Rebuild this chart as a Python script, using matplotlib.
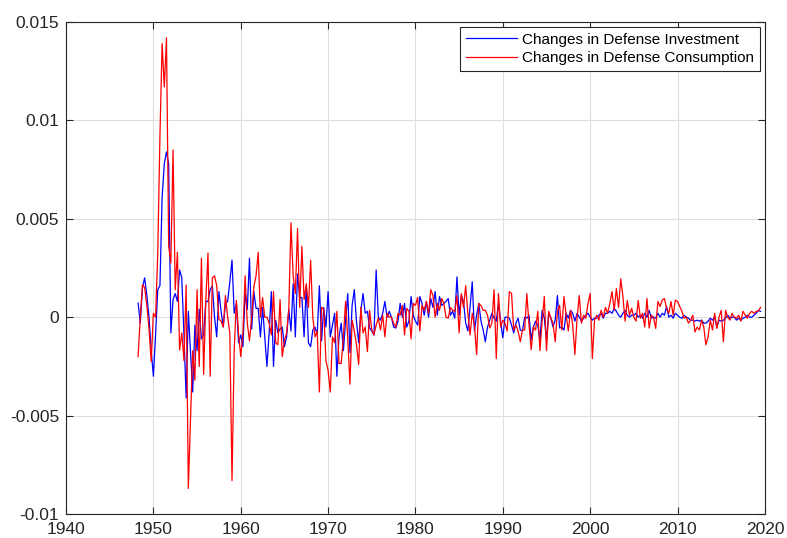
import numpy as np
import matplotlib.pyplot as plt
from matplotlib.ticker import FuncFormatter

plt.rcParams['font.family'] = ['Liberation Sans', 'DejaVu Sans']

# quarterly changes, in thousandths, starting 1948Q2
start_year = 1948.25

investment = [
    # 1948 - 1959
    0.72, -0.3, 1.5, 2.0, 1.1, 0, -1.7, -3.0, -0.9, 1.4,
    1.6, 6.1, 7.8, 8.4, 7.8, -0.8, 0.9, 1.2, 0.8, 2.4,
    2.0, -0.9, -4.1, 0.3, -1.7, -3.8, -0.4, -1.7, 0.4, -1.1,
    -0.9, 0.8, 0.8, 1.4, 1.6, 0, -1.0, 1.3, 0.3, -0.5,
    0.7, 0.8, 1.8, 2.9, 0.2, 0.7, -1.3, -0.9,
    # 1960 - 1971
    -1.5, 1.2, 0.4, 3.0, -0.6, 1.3, 0.45, 0.45, -1.0, 0.5,
    -1.0, -2.5, -0.8, 1.3, -2.5, -0.15, -0.8, -0.6, -0.5, -1.5,
    -1.0, 0.4, -0.7, 1.7, -1.0, 2.2, 1.0, 1.0, -1.0, 1.55,
    -1.3, -1.5, -0.65, -0.5, -0.9, 1.6, -1.2, 0.5, -0.5, 1.3,
    -1.0, -0.4, 0.2, -3.0, -1.0, -0.3, -1.7,
    # 1972 - 1983
    -0.2, 1.2, -1.8, 0.6, 1.4, -0.2, -1.3, 0.35, 1.2, 0.2,
    0.3, -0.55, -0.7, -0.9, 2.4, 0, -0.15, 0.2, 0.8, 0,
    0.3, 0, -0.5, -0.55, -0.2, 0.7, 0, 0.7, -0.5, -0.2,
    1.05, 0.1, -0.2, -0.4, 1.05, 0.7, 0.1, 0.8, 0, 0.95,
    0.5, 1.3, 0.1, 1.05, 0.6, 0.7, 0.8,
    # 1984 - 1995
    0.95, 0.1, 0.3, -0.05, 2.05, 0.1, 1.1, 0.8, -0.3, -0.7,
    0.5, 1.8, -0.7, 0.1, 0.7, -0.2, -0.65, -1.25, -0.5, -0.15,
    0.2, -0.05, -0.2, 0.7, -0.2, -1.05, 0, 0, -0.05, -0.4,
    -0.8, -0.3, -0.05, -0.65, -0.7, 0, -0.05, 0.1, -1.15, -0.5,
    -0.2, -0.4, -1.15, 0.35, -0.05, -1.15, 0.2,
    # 1996 - 2007
    -0.05, -0.5, -0.15, 1.1, -0.55, -0.5, -0.65, 0.2, -0.05, 0.35,
    0.2, -0.2, 0.2, 0, -0.2, -0.05, 0.1, 0.2, 0, -0.15,
    -0.05, -0.05, 0.1, 0.2, -0.05, 0.2, 0.2, 0.3, 0.2, 0.45,
    0.3, 0.1, 0, 0.2, 0.35, 0.1, 0, 0.1, 0.1, 0.2,
    0, 0.1, -0.05, 0.2, 0, 0.35, -0.05, 0,
    # 2008 - 2019
    -0.05, 0.2, 0, 0.2, 0.1, 0.55, 0, 0.1, -0.05, 0.2,
    0.1, 0, -0.05, 0.1, 0, -0.05, -0.15, -0.15, -0.2, -0.15,
    -0.2, -0.15, -0.3, -0.3, -0.2, -0.05, -0.15, 0, -0.5, -0.15,
    -0.2, -0.15, -0.05, 0.1, -0.05, 0, 0, -0.15, -0.05, -0.15,
    -0.05, 0, 0.1, 0, 0, 0.1, 0.2, 0.35, 0.3,
]

consumption = [
    # 1948 - 1959
    -2.0, 0.0, 1.64, 1.5, 0.6, -0.6, -2.26, 0.2, 0.0, 3.26,
    9.2, 13.9, 11.7, 14.2, 3.6, 2.75, 8.5, 1.4, 3.3, -1.67,
    -0.8, -2.2, 1.64, -8.7, -5.2, -1.7, -3.2, 1.4, -2.5, 3.0,
    -2.9, 0.85, 3.26, -3.0, 2.0, 2.1, 1.6, -0.1, -0.2, -0.5,
    1.1, 0, -0.8, -8.3, -1.7, 0.85, -0.85, -2.0,
    # 1960 - 1971
    -0.8, 2.1, -0.3, -1.2, 0, 1.55, 2.1, 3.3, 0, 1.0,
    0, 0, -0.3, -0.9, 1.3, -1.3, -1.4, 0.9, -2.0, -1.2,
    -0.8, 0.4, 4.8, 2.1, 1.2, 4.5, 0.5, 3.6, 0.9, 1.7,
    0.5, 2.9, 0, -1.0, -0.7, -3.8, 0.5, 0.4, -2.2, -2.7,
    -3.8, -1.0, -1.3, 0.3, -2.35, -2.35, -1.0,
    # 1972 - 1983
    0.8, -1.1, -3.4, -0.15, -0.7, -1.4, -2.4, 0.5, -0.8, -0.5,
    -1.75, 0.35, -0.65, -0.9, -0.4, -0.05, -0.65, 0.1, -1.0, 0.2,
    0, 0, -0.3, -0.5, 0.2, 0.1, 0.6, -0.9, 0.45, 0.3,
    -1.1, 0.7, 0.6, 1.0, -0.7, 0.6, 0.35, 0.8, 0.2, 1.4,
    1.1, 0, 0.7, 0.35, 0.95, 0.7, 0,
    # 1984 - 1995
    -0.05, 0.5, 0.35, 0.3, 1.1, -0.8, 1.2, 0.5, 1.6, 0.2,
    -0.9, 0.2, -0.4, -1.9, 0.7, 0.6, 0.35, 0.35, 0.1, -0.55,
    -0.3, 1.4, -2.1, 1.2, -0.5, -0.15, -0.3, -0.7, 1.3, 1.2,
    -0.65, -0.4, -0.7, -1.25, -0.65, -0.65, 1.2, -0.4, -1.65, -0.5,
    -0.65, 0.3, -1.7, -0.2, 1.05, -1.7, 0.3,
    # 1996 - 2007
    -0.05, -0.3, -1.25, 0.3, 0.6, -0.65, 1.05, 0.1, -0.7, 0.35,
    -0.4, -1.9, -0.05, 1.1, -0.3, 0.1, -0.05, 0.7, 1.2, -2.1,
    -0.15, 0.1, -0.15, 0.35, 0, 0.5, 0.2, 0.7, 1.3, 0.35,
    1.45, 0.5, 1.95, 1.05, -0.2, 0.85, 0.1, 0.45, 0, -0.2,
    0.85, -0.05, 0.2, -0.5, 0.95, -0.55, 0.1, 0,
    # 2008 - 2019
    -0.57, 0.8, 0.55, 0.87, 0.95, 0.45, 0.2, 0.8, 0.1, 0.87,
    0.8, 0.55, 0.3, -0.05, 0, -0.3, -0.15, 0.1, -0.75, -0.5,
    -0.65, -0.15, -0.5, -1.4, -1.0, -0.15, -0.65, 0.2, -0.57, 0,
    0.35, -1.25, 0.35, 0, -0.15, 0.2, 0, -0.05, 0.1, -0.2,
    0.3, 0.1, -0.05, 0.2, 0.3, 0.2, 0.3, 0.3, 0.5,
]

inv = np.array(investment) / 1000
con = np.array(consumption) / 1000
t_inv = start_year + 0.25 * np.arange(len(inv))
t_con = start_year + 0.25 * np.arange(len(con))

fig = plt.figure(figsize=(7.87, 5.38), dpi=100)
ax = fig.add_axes([0.0839, 0.0446, 0.888, 0.9145])

ax.plot(t_inv, inv, color=(0, 0, 1), lw=0.9, label='Changes in Defense Investment')
ax.plot(t_con, con, color=(1, 0, 0), lw=0.9, label='Changes in Defense Consumption')

ax.set_xlim(1940, 2020)
ax.set_ylim(-0.01, 0.015)
ax.set_xticks(np.arange(1940, 2021, 10))
ax.set_yticks([-0.01, -0.005, 0, 0.005, 0.01, 0.015])
ax.yaxis.set_major_formatter(FuncFormatter(lambda v, p: '%g' % round(v, 4)))

ax.grid(True, color='#dedede', lw=0.8)
ax.set_axisbelow(True)
ax.tick_params(direction='in', top=True, right=True, length=5, width=0.8,
               labelsize=12.5, colors='#262626')
ax.tick_params(axis='x', pad=6)
ax.tick_params(axis='y', pad=5)
for s in ax.spines.values():
    s.set_color('#262626')
    s.set_linewidth(0.8)

leg = ax.legend(loc='upper right', fontsize=11, frameon=True, fancybox=False,
                edgecolor='#262626', framealpha=1, handlelength=3.3,
                handletextpad=0.35, borderpad=0.4, borderaxespad=0.3,
                labelspacing=0.3)
leg.get_frame().set_linewidth(0.8)

fig.savefig('out.png', dpi=100)
